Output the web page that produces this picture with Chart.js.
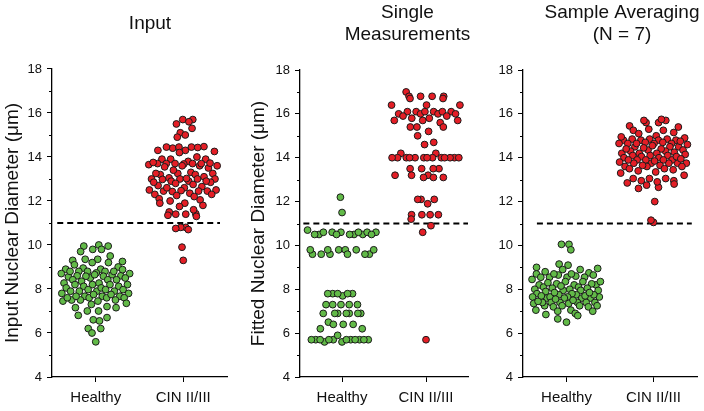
<!DOCTYPE html>
<html><head><meta charset="utf-8">
<script src="https://cdn.jsdelivr.net/npm/chart.js@4/dist/chart.umd.min.js"></script>
<style>
html,body{margin:0;padding:0;background:#fff;overflow:hidden;width:704px;height:411px;position:relative;}
canvas{position:absolute;top:0;}
</style></head><body>
<canvas id="c1" style="left:0px;width:300px;height:411px" width="300" height="411"></canvas>
<canvas id="c2" style="left:237px;width:341px;height:411px" width="341" height="411"></canvas>
<canvas id="c3" style="left:495px;width:254px;height:411px" width="254" height="411"></canvas>
<script>
// ---------------- data ----------------
const categories = ['Healthy', 'CIN II/III'];
const yTicks = [4, 6, 8, 10, 12, 14, 16, 18];
const threshold = 11;

const inputHealthy = [9.95,9.95,10.0,9.8,9.7,9.8,9.2,9.3,9.5,9.1,9.25,9.35,9.35,9.2,9.0,8.95,
  8.5,8.8,8.9,8.9,8.55,8.6,8.65,8.7,8.8,8.8,8.6,8.8,8.7,8.88,8.8,8.73,8.58,8.58,8.65,8.5,8.42,8.27,
  8.42,8.42,8.2,8.2,8.35,8.2,8.27,8.12,8.2,8.12,7.9,8.05,8.05,7.97,7.9,7.97,7.97,7.9,7.8,7.67,
  7.6,7.67,7.5,7.45,7.6,7.67,7.6,7.75,7.8,7.9,7.75,7.5,7.5,7.6,7.67,7.45,7.3,7.35,
  7.15,7.2,7.0,7.15,7.0,6.8,6.7,6.6,6.55,6.2,6.2,6.0,5.6];
const inputCIN = [15.7,15.7,15.6,15.5,15.3,15.1,14.9,15.0,
  14.3,14.4,14.45,14.45,14.45,14.47,14.43,14.3,14.2,14.25,14.0,13.9,13.8,13.9,13.9,13.7,13.6,13.5,
  13.7,13.72,13.68,13.7,13.6,13.7,13.65,13.7,13.75,13.6,13.55,
  13.2,13.1,13.25,13.3,13.25,13.2,13.25,13.4,
  13.0,13.0,12.98,12.9,13.05,12.9,13.0,13.02,13.0,
  12.6,12.65,12.7,12.8,12.85,12.75,12.85,12.9,
  12.45,12.45,12.47,12.35,12.45,12.5,12.43,12.5,12.6,
  12.05,12.25,12.3,12.3,12.2,12.1,11.9,12.0,11.9,11.75,11.8,
  11.4,11.42,11.5,11.6,11.35,11.4,11.3,10.8,10.8,10.75,10.7,9.9,9.3];

const singleHealthy = [12.2,11.5,
  10.6,10.5,10.7,10.5,10.5,10.6,10.6,10.6,10.6,10.5,10.6,10.5,10.5,10.5,
  9.6,9.8,9.8,9.8,9.6,9.8,9.8,9.6,9.6,9.6,9.6,9.8,
  7.8,7.8,7.8,7.7,7.8,7.8,
  7.3,7.3,7.3,7.3,7.3,
  6.9,6.9,6.9,6.9,6.9,6.9,6.9,
  6.5,6.2,6.4,6.4,6.2,6.4,
  5.7,5.7,5.7,5.6,5.7,5.7,5.7,5.6,5.9,5.7,5.7,5.7,5.7,5.7];
const singleCIN = [17.0,16.8,16.8,16.8,16.8,16.7,16.7,16.4,16.4,16.4,
  16.1,16.1,16.0,16.1,16.0,16.0,16.1,16.0,16.1,16.1,15.9,15.9,15.8,15.8,15.7,15.7,15.6,15.7,
  15.4,15.4,15.4,15.2,15.0,14.7,14.6,14.2,14.2,
  14.0,14.0,14.0,14.0,14.0,14.0,14.0,14.0,14.0,14.0,14.0,14.0,14.0,
  13.5,13.5,13.5,13.5,13.2,13.2,13.1,13.2,13.1,13.1,
  12.1,12.1,12.1,11.9,11.4,11.4,11.4,11.4,11.2,10.9,10.6,5.7];

const avgHealthy = [10.05,10.05,9.8,9.15,9.1,8.95,8.9,9.0,8.9,
  8.8,8.7,8.75,8.65,8.55,8.6,8.55,8.55,8.55,8.65,8.7,8.7,
  8.35,8.25,8.35,8.2,8.2,8.2,8.1,8.35,8.25,8.1,
  8.0,7.95,7.95,8.0,7.95,7.9,7.8,7.75,7.8,7.6,7.65,7.75,7.65,7.6,7.65,7.75,7.6,7.65,7.6,
  7.4,7.2,7.4,7.25,7.4,7.2,7.4,7.35,7.4,7.25,7.4,7.25,7.35,7.25,
  7.05,7.0,6.85,7.0,7.05,6.9,6.8,6.65,6.5,
  8.45,8.05,7.85,7.55,8.15,7.7,7.5,8.3,7.45,8.05,7.85,7.7];
const avgCIN = [15.6,15.7,15.75,15.6,15.7,15.45,15.4,15.3,15.25,15.25,15.0,15.1,14.8,
  14.85,14.85,14.9,14.8,14.85,14.65,14.65,14.7,14.5,14.8,14.5,14.8,14.65,14.7,14.65,14.65,14.5,
  14.3,14.2,14.4,14.35,14.1,14.3,14.4,14.25,14.2,14.35,14.2,14.05,14.1,14.0,14.1,14.0,
  13.8,13.9,13.75,13.9,13.75,13.75,13.9,14.05,13.75,13.75,13.9,13.65,13.9,
  13.6,13.45,13.6,13.65,13.6,13.5,13.5,13.35,13.4,
  13.2,13.05,12.95,13.05,12.95,13.05,12.75,12.8,12.65,12.6,12.0,11.05,11.15,
  14.55,14.45,14.15,13.95,13.85,14.75,14.6,13.3,12.9,12.85,15.15,14.95];

// ---------------- styling / layout ----------------
const FONT = "'Liberation Sans', Arial, Helvetica, sans-serif";
const GREEN = 'rgb(98,186,72)';
const RED = 'rgb(228,30,38)';
const EDGE = '#1b1b1b';

// van der Corput sequence used only to lay points side by side (layout, not data)
function vdc(n){ let v=0, d=1; while(n>0){ d*=2; v+=(n%2)/d; n=Math.floor(n/2);} return v; }
function swarm(values, center, pxY, pxX, per){
  const order = values.map((v,i)=>i).sort((a,b)=>values[a]-values[b]);
  const out = new Array(values.length);
  order.forEach((k,rank)=>{
    const v = values[k];
    const n = values.filter(w=>Math.abs(w-v)*pxY <= 8).length;
    const hw = Math.min(35, n*per);
    out[k] = {x: center + hw*(2*vdc(rank+1)-1)/pxX, y: v};
  });
  return out;
}

const minorTicks = {
  id:'minorTicks',
  afterDraw(chart){
    const y = chart.scales.y, ctx = chart.ctx;
    ctx.save(); ctx.strokeStyle='#000'; ctx.lineWidth=1;
    for(let v=yTicks[0]+1; v<yTicks[yTicks.length-1]; v+=2){
      const py = Math.round(y.getPixelForValue(v))+0.5;
      ctx.beginPath(); ctx.moveTo(y.right-3,py); ctx.lineTo(y.right,py); ctx.stroke();
    }
    ctx.restore();
  }
};

function makeChart(id, cfg){
  const pxY = cfg.plotH/(yTicks[yTicks.length-1]-yTicks[0]);
  const pxX = cfg.plotW/2;
  const datasets = [
    {data: swarm(cfg.healthy, 1, pxY, pxX, cfg.per), backgroundColor: GREEN},
    {data: swarm(cfg.cin, 2, pxY, pxX, cfg.per), backgroundColor: RED},
  ].map(d=>Object.assign(d,{pointRadius:3.4, pointHoverRadius:3.4, borderColor:EDGE, borderWidth:1}));
  datasets.push({type:'line', data:[{x:cfg.dash[0],y:threshold},{x:cfg.dash[1],y:threshold}],
    borderColor:'#000', borderWidth:2, borderDash:[6,4], pointRadius:0, showLine:true, fill:false});
  return new Chart(document.getElementById(id), {
    type:'scatter',
    data:{datasets},
    options:{
      responsive:false, animation:false, events:[],
      layout:{padding:0},
      plugins:{
        legend:{display:false}, tooltip:{enabled:false},
        title:{display:true, text:cfg.title, color:'#111',
          font:{family:FONT, size:19, weight:'normal', lineHeight:1.15},
          padding:{top:cfg.tPad[0], bottom:cfg.tPad[1]}}
      },
      scales:{
        x:{type:'linear', min:0.5, max:2.5, position:'bottom',
          afterBuildTicks(s){ s.ticks = categories.map((c,i)=>({value:i+1})); },
          ticks:{callback:(v)=>categories[v-1] ?? '', color:'#111', font:{family:FONT,size:15},
            padding:7, maxRotation:0, autoSkip:false},
          grid:{drawOnChartArea:false, drawTicks:true, tickLength:5, tickColor:'#000', color:'#000'},
          border:{display:true, color:'#000', width:1.3},
          afterFit(s){ s.height = 34; }
        },
        y:{type:'linear', min:yTicks[0], max:yTicks[yTicks.length-1], position:'left',
          afterBuildTicks(s){ s.ticks = yTicks.map(v=>({value:v})); },
          ticks:{color:'#111', font:{family:FONT,size:13}, padding:5},
          grid:{drawOnChartArea:false, drawTicks:true, tickLength:5, tickColor:'#000', color:'#000'},
          border:{display:true, color:'#000', width:1.3},
          title:{display:!!cfg.yTitle, text:cfg.yTitle||'', color:'#111',
            font:{family:FONT,size:19}, padding:{top:cfg.yTitlePad||0, bottom:0}},
          afterFit(s){ s.width = cfg.leftW; }
        },
        r:{type:'linear', position:'right', display:true,
          grid:{display:false}, border:{display:false}, ticks:{display:false},
          afterFit(s){ s.width = cfg.rightW; }
        }
      }
    },
    plugins:[minorTicks]
  });
}

makeChart('c1', {title:'Input', tPad:[13.1,34], yTitle:'Input Nuclear Diameter (\u03bcm)', yTitlePad:1.3,
  leftW:52, rightW:73, plotW:175, plotH:308, per:2.5, healthy:inputHealthy, cin:inputCIN, dash:[0.56,2.42]});
makeChart('c2', {title:['Single','Measurements'], tPad:[1.8,24.5], yTitle:'Fitted Nuclear Diameter (\u03bcm)', yTitlePad:10.6,
  leftW:63, rightW:110, plotW:168, plotH:307, per:3.3, healthy:singleHealthy, cin:singleCIN, dash:[0.54,2.52]});
makeChart('c3', {title:['Sample Averaging','(N = 7)'], tPad:[1.8,24.5], yTitle:null,
  leftW:28, rightW:52, plotW:174, plotH:307, per:2.5, healthy:avgHealthy, cin:avgCIN, dash:[0.66,2.44]});
</script>
</body></html>
